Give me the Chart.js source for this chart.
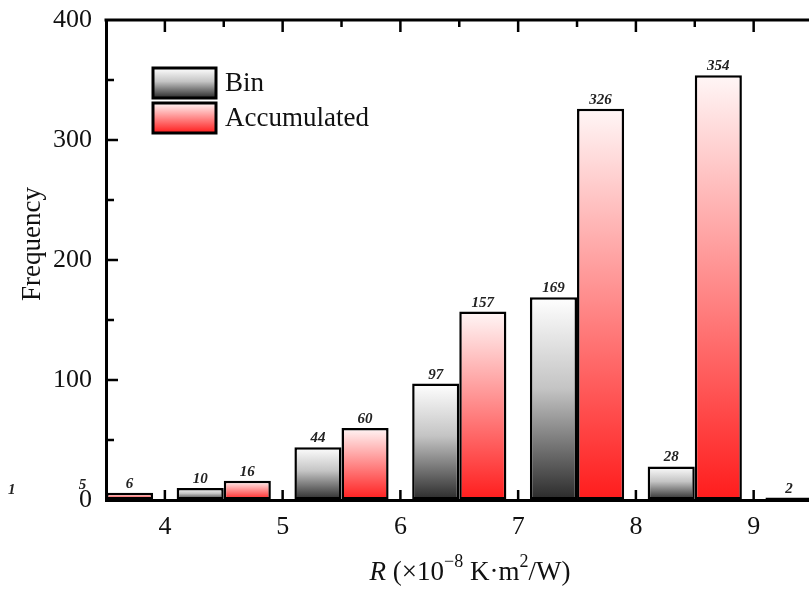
<!DOCTYPE html>
<html><head><meta charset="utf-8">
<script src="https://cdn.jsdelivr.net/npm/chart.js@4.4.1/dist/chart.umd.min.js"></script>
<style>html,body{margin:0;padding:0;background:#fff;overflow:hidden}</style>
</head><body>
<canvas id="c" width="809" height="590"></canvas>
<script>
// ---- data ----
const binStarts = [2, 3, 4, 5, 6, 7, 8, 9];          // lower edge of each R bin
const binCounts = [1, 5, 10, 44, 97, 169, 28, 2];   // "Bin" series
const accumulatedCounts = [1, 6, 16, 60, 157, 326, 354, 356]; // "Accumulated" series
const xTickValues = [4, 5, 6, 7, 8, 9];
const yTickValues = [0, 100, 200, 300, 400];
const seriesNames = ['Bin', 'Accumulated'];
const yTitle = 'Frequency';
const xTitleParts = [
  {t: 'R', style: 'italic'},
  {t: ' (×10'},
  {t: '−8', sup: true},
  {t: ' K·m'},
  {t: '2', sup: true},
  {t: '/W)'}
];

const SERIF = '"Liberation Serif", "Times New Roman", serif';

function gradFor(chart, top, bot, dark) {
  const g = chart.ctx.createLinearGradient(0, top, 0, Math.max(bot, top + 1));
  if (dark) { g.addColorStop(0, '#ffffff'); g.addColorStop(0.45, '#c4c4c4'); g.addColorStop(1, '#2a2a2a'); }
  else { g.addColorStop(0, '#fff6f6'); g.addColorStop(1, '#ff1c1c'); }
  return g;
}
function barFill(dark) {
  return function(ctx) {
    const chart = ctx.chart;
    if (!chart.chartArea || ctx.type !== 'data' || !chart.scales.y) return dark ? '#888' : '#f88';
    const ys = chart.scales.y;
    return gradFor(chart, ys.getPixelForValue(ctx.raw.y), ys.getPixelForValue(0), dark);
  };
}

const toPoints = arr => arr.map((v, i) => ({x: binStarts[i] + 0.5, y: v}));

const decorPlugin = {
  id: 'decor',
  afterDatasetsDraw(chart) {
    const c = chart.ctx;
    c.save();
    c.font = 'italic bold 15px ' + SERIF;
    c.fillStyle = '#222';
    c.textAlign = 'center';
    c.textBaseline = 'alphabetic';
    chart.data.datasets.forEach((ds, di) => {
      const meta = chart.getDatasetMeta(di);
      meta.data.forEach((el, i) => {
        c.fillText(String(ds.data[i].y), el.x, el.y - 5);
      });
    });
    c.restore();
  },
  afterDraw(chart) {
    const c = chart.ctx, a = chart.chartArea, xs = chart.scales.x, ys = chart.scales.y;
    c.save();
    c.strokeStyle = '#000';
    c.lineWidth = 3;
    c.lineCap = 'butt';
    // top frame line
    c.beginPath(); c.moveTo(a.left - 1.5, a.top); c.lineTo(a.right, a.top); c.stroke();
    c.lineWidth = 2.5;
    // left ticks
    for (let v = 50; v < 400; v += 50) {
      const y = ys.getPixelForValue(v);
      const len = v % 100 === 0 ? 12 : 8;
      c.beginPath(); c.moveTo(a.left, y); c.lineTo(a.left + len, y); c.stroke();
    }
    // top ticks
    for (let v = 4; v <= 10; v += 0.5) {
      const x = xs.getPixelForValue(v);
      if (x > a.right) break;
      const len = Number.isInteger(v) ? 12 : 7;
      c.beginPath(); c.moveTo(x, a.top); c.lineTo(x, a.top + len); c.stroke();
    }
    // bottom ticks
    xTickValues.forEach(v => {
      const x = xs.getPixelForValue(v);
      c.beginPath(); c.moveTo(x, a.bottom); c.lineTo(x, a.bottom - 10); c.stroke();
    });
    // legend
    const lx = 153, lw = 63, lh = 30, ly = [68, 103];
    [true, false].forEach((dark, k) => {
      c.fillStyle = gradFor(chart, ly[k], ly[k] + lh, dark);
      c.fillRect(lx, ly[k], lw, lh);
      c.lineWidth = 3;
      c.strokeRect(lx, ly[k], lw, lh);
      c.fillStyle = '#111';
      c.font = '27px ' + SERIF;
      c.textAlign = 'left';
      c.textBaseline = 'middle';
      c.fillText(seriesNames[k], 225, ly[k] + lh / 2 + 1);
    });
    // y title
    c.save();
    c.translate(33, 244);
    c.rotate(-Math.PI / 2);
    c.font = '27px ' + SERIF;
    c.textAlign = 'center';
    c.textBaseline = 'middle';
    c.fillStyle = '#111';
    c.fillText(yTitle, 0, 0);
    c.restore();
    // x title (rich text)
    const fontFor = p => (p.style ? p.style + ' ' : '') + (p.sup ? '18px ' : '27px ') + SERIF;
    let total = 0;
    xTitleParts.forEach(p => { c.font = fontFor(p); total += c.measureText(p.t).width; });
    let x = 470 - total / 2;
    const base = 580;
    c.textAlign = 'left';
    c.textBaseline = 'alphabetic';
    c.fillStyle = '#111';
    xTitleParts.forEach(p => {
      c.font = fontFor(p);
      c.fillText(p.t, x, p.sup ? base - 13 : base);
      x += c.measureText(p.t).width;
    });
    c.restore();
  }
};

new Chart(document.getElementById('c'), {
  type: 'bar',
  data: {
    datasets: [
      {label: seriesNames[0], data: toPoints(binCounts), backgroundColor: barFill(true),
       borderColor: '#000', borderWidth: 2.5, borderSkipped: false, clip: {left: 0, right: 0, top: 10, bottom: 3}},
      {label: seriesNames[1], data: toPoints(accumulatedCounts), backgroundColor: barFill(false),
       borderColor: '#000', borderWidth: 2.5, borderSkipped: false, clip: {left: 0, right: 0, top: 10, bottom: 3}}
    ]
  },
  options: {
    responsive: false,
    animation: false,
    devicePixelRatio: 1,
    categoryPercentage: 0.8,
    barPercentage: 1.0,
    layout: {padding: {top: 20, right: 0, left: 0, bottom: 0}},
    plugins: {legend: {display: false}, tooltip: {enabled: false}},
    scales: {
      x: {
        type: 'linear', min: 3.5, max: 9.47, offset: false,
        afterBuildTicks: s => { s.ticks = xTickValues.map(v => ({value: v})); },
        afterFit: s => { s.height = 90; s.paddingLeft = 0; s.paddingRight = 0; },
        grid: {display: true, drawOnChartArea: false, drawTicks: false},
        border: {display: true, color: '#000', width: 3},
        ticks: {padding: 12, color: '#111', font: {family: SERIF, size: 26}, maxRotation: 0, autoSkip: false,
                callback: v => String(v)}
      },
      y: {
        min: 0, max: 400,
        afterBuildTicks: s => { s.ticks = yTickValues.map(v => ({value: v})); },
        afterFit: s => { s.width = 106; s.paddingTop = 0; s.paddingBottom = 0; },
        grid: {display: true, drawOnChartArea: false, drawTicks: false},
        border: {display: true, color: '#000', width: 3},
        ticks: {padding: 14, color: '#111', font: {family: SERIF, size: 26}, callback: v => String(v)}
      }
    }
  },
  plugins: [decorPlugin]
});
</script>
</body></html>
